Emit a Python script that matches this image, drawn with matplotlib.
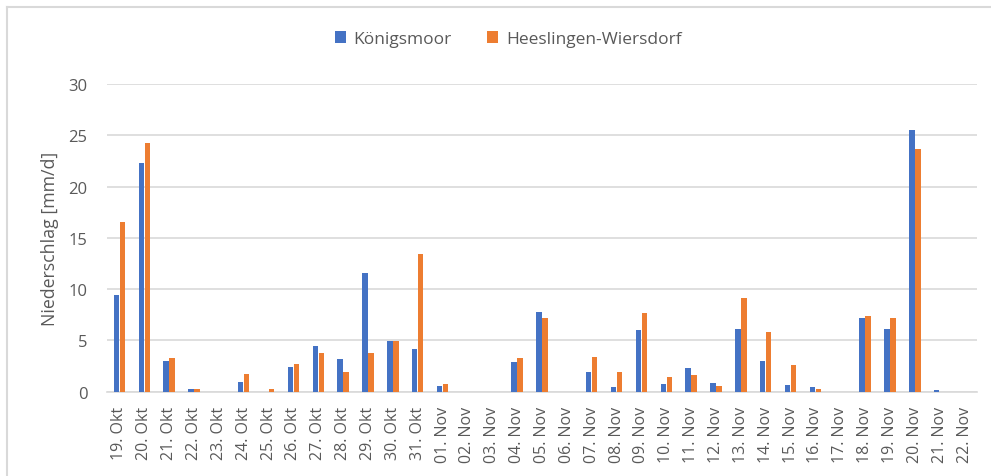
import matplotlib
matplotlib.use("Agg")
import matplotlib.pyplot as plt
import numpy as np
from matplotlib.lines import Line2D

categories = ["19. Okt", "20. Okt", "21. Okt", "22. Okt", "23. Okt", "24. Okt", "25. Okt",
              "26. Okt", "27. Okt", "28. Okt", "29. Okt", "30. Okt", "31. Okt", "01. Nov",
              "02. Nov", "03. Nov", "04. Nov", "05. Nov", "06. Nov", "07. Nov", "08. Nov",
              "09. Nov", "10. Nov", "11. Nov", "12. Nov", "13. Nov", "14. Nov", "15. Nov",
              "16. Nov", "17. Nov", "18. Nov", "19. Nov", "20. Nov", "21. Nov", "22. Nov"]

koenigsmoor = [9.4, 22.3, 3.0, 0.3, 0.0, 0.9, 0.0,
               2.4, 4.5, 3.15, 11.6, 4.9, 4.2, 0.6,
               0.0, 0.0, 2.85, 7.8, 0.0, 1.95, 0.5,
               6.05, 0.75, 2.35, 0.8, 6.1, 3.0, 0.65,
               0.42, 0.0, 7.2, 6.1, 25.5, 0.15, 0.0]

heeslingen = [16.5, 24.2, 3.25, 0.3, 0.0, 1.7, 0.25,
              2.7, 3.8, 1.9, 3.75, 4.9, 13.4, 0.75,
              0.0, 0.0, 3.25, 7.2, 0.0, 3.4, 1.95,
              7.7, 1.4, 1.6, 0.6, 9.1, 5.8, 2.6,
              0.25, 0.0, 7.35, 7.2, 23.7, 0.0, 0.0]

series_names = ["Königsmoor", "Heeslingen-Wiersdorf"]
y_ticks = [0, 5, 10, 15, 20, 25, 30]
y_label = "Niederschlag [mm/d]"

BLUE = "#4472C4"
ORANGE = "#ED7D31"
GRID = "#D9D9D9"
TXT = "#595959"

plt.rcParams['font.family'] = ['Open Sans', 'DejaVu Sans']

W, H = 991, 477
fig = plt.figure(figsize=(W / 100, H / 100), dpi=100)
fig.patch.set_facecolor("white")

left, right, bottom, top = 107, 977, 392.7, 85
ax = fig.add_axes([left / W, (H - bottom) / H, (right - left) / W, (bottom - top) / H])

x = np.arange(len(categories))
bw = 0.22
ax.bar(x - bw / 2 - 0.01, koenigsmoor, width=bw, color=BLUE, label=series_names[0], zorder=3)
ax.bar(x + bw / 2 + 0.01, heeslingen, width=bw, color=ORANGE, label=series_names[1], zorder=3)

ax.set_xlim(-0.5, len(categories) - 0.5)
ax.set_ylim(0, 30)
ax.set_yticks(y_ticks)
ax.set_yticklabels([str(v) for v in y_ticks], fontsize=12, color=TXT)
ax.set_xticks(x)
ax.set_xticklabels(categories, rotation=90, fontsize=11.5, color=TXT)
ax.tick_params(axis="both", length=0)
ax.tick_params(axis="y", pad=14)
ax.tick_params(axis="x", pad=10)
ax.yaxis.grid(True, color=GRID, linewidth=1.2, zorder=0)
ax.set_axisbelow(True)
for s in ["top", "right", "left"]:
    ax.spines[s].set_visible(False)
ax.spines["bottom"].set_color(GRID)
ax.spines["bottom"].set_linewidth(1.2)

ax.set_ylabel(y_label, fontsize=12.8, color=TXT, labelpad=7)

leg = fig.legend(loc="center", bbox_to_anchor=(508 / W, (H - 40) / H), ncol=2, frameon=False,
                 fontsize=12.5, handlelength=0.65, handleheight=0.65, columnspacing=2.0,
                 handletextpad=0.45)
for t in leg.get_texts():
    t.set_color(TXT)

# chart border (top and left visible)
fig.add_artist(Line2D([7 / W, 1.0], [(H - 8) / H, (H - 8) / H], color=GRID, linewidth=1.5,
                      transform=fig.transFigure))
fig.add_artist(Line2D([7 / W, 7 / W], [0, (H - 8) / H], color=GRID, linewidth=1.5,
                      transform=fig.transFigure))

fig.savefig("out.png", dpi=100, facecolor="white")
